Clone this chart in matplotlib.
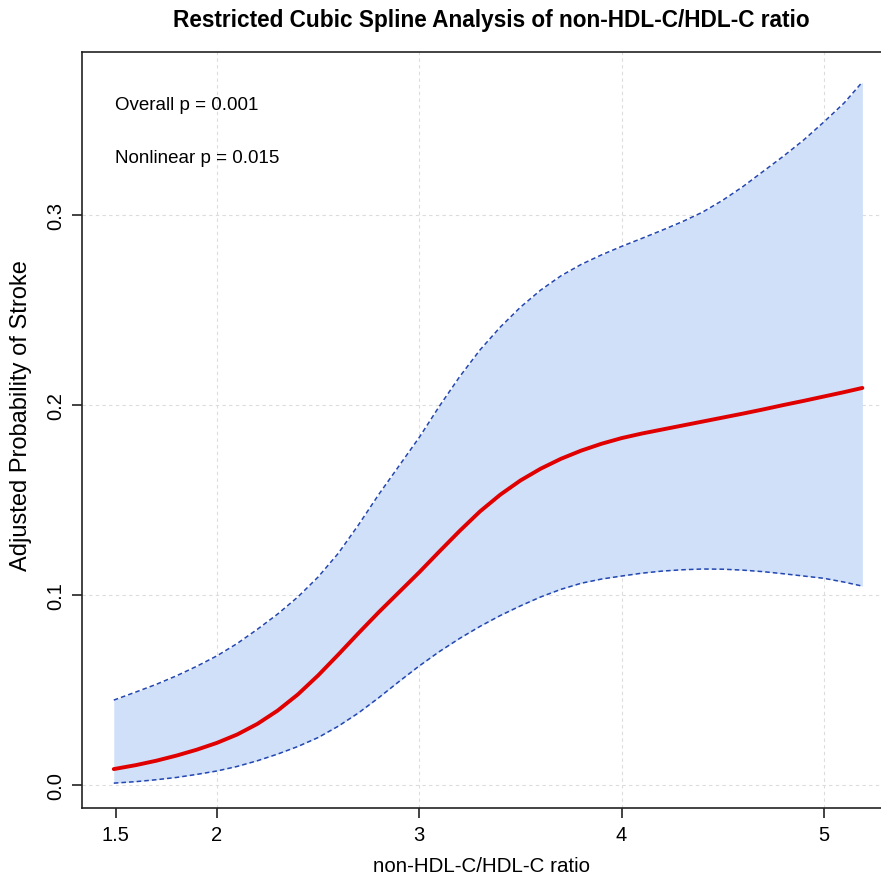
import numpy as np
import matplotlib
matplotlib.use("Agg")
import matplotlib.pyplot as plt

plt.rcParams["font.family"] = ["Liberation Sans", "DejaVu Sans"]

# ====== values ======
ratio = [1.49, 1.6, 1.7, 1.8, 1.9, 2.0, 2.1, 2.2, 2.3, 2.4, 2.5, 2.6, 2.7,
         2.8, 2.9, 3.0, 3.1, 3.2, 3.3, 3.4, 3.5, 3.6, 3.7, 3.8, 3.9, 4.0,
         4.1, 4.2, 4.3, 4.4, 4.5, 4.6, 4.7, 4.8, 4.9, 5.0, 5.1, 5.19]
prob = [0.0084, 0.0105, 0.0128, 0.0155, 0.0186, 0.0222, 0.0266, 0.0322,
        0.0392, 0.0477, 0.0577, 0.0687, 0.0800, 0.0910, 0.1015, 0.1120,
        0.1230, 0.1338, 0.1440, 0.1528, 0.1603, 0.1665, 0.1717, 0.1760,
        0.1796, 0.1826, 0.1850, 0.1871, 0.1892, 0.1913, 0.1934, 0.1955,
        0.1977, 0.2000, 0.2022, 0.2045, 0.2068, 0.2090]
upper = [0.0447, 0.0490, 0.0530, 0.0575, 0.0625, 0.0680, 0.0745, 0.0820,
         0.0900, 0.0990, 0.1095, 0.1220, 0.1370, 0.1530, 0.1680, 0.1830,
         0.1995, 0.2150, 0.2290, 0.2410, 0.2515, 0.2605, 0.2680, 0.2740,
         0.2790, 0.2835, 0.2877, 0.2920, 0.2965, 0.3015, 0.3078, 0.3150,
         0.3230, 0.3310, 0.3395, 0.3490, 0.3590, 0.3700]
lower = [0.0010, 0.0018, 0.0028, 0.0040, 0.0056, 0.0074, 0.0098, 0.0128,
         0.0163, 0.0203, 0.0250, 0.0310, 0.0380, 0.0460, 0.0545, 0.0627,
         0.0703, 0.0772, 0.0835, 0.0892, 0.0943, 0.0990, 0.1030, 0.1062,
         0.1084, 0.1100, 0.1115, 0.1126, 0.1133, 0.1137, 0.1136, 0.1131,
         0.1123, 0.1112, 0.1100, 0.1088, 0.1068, 0.1047]

x_ticks = [1.5, 2, 3, 4, 5]
x_ticklabels = ["1.5", "2", "3", "4", "5"]
y_ticks = [0.0, 0.1, 0.2, 0.3]
y_ticklabels = ["0.0", "0.1", "0.2", "0.3"]

p_overall = "Overall p = 0.001"
p_nonlinear = "Nonlinear p = 0.015"

# ====== plot ======
fig = plt.figure(figsize=(8.81, 8.79), dpi=100)
ax = fig.add_axes([0.0931, 0.0796, 0.9069, 0.8601])

ax.fill_between(ratio, lower, upper, color="#cfe0f8", linewidth=0, zorder=2)
ax.plot(ratio, upper, color="#2346b0", linestyle=(0, (3, 2)), linewidth=1.1, zorder=3)
ax.plot(ratio, lower, color="#2346b0", linestyle=(0, (3, 2)), linewidth=1.1, zorder=3)
ax.plot(ratio, prob, color="#e00000", linewidth=2.8, zorder=4,
        solid_capstyle="round", solid_joinstyle="round")

ax.set_xlim(1.333, 5.282)
ax.set_ylim(-0.0121, 0.3858)

ax.set_xticks(x_ticks)
ax.set_xticklabels(x_ticklabels)
ax.set_yticks(y_ticks)
ax.set_yticklabels(y_ticklabels, rotation=90, va="center")
ax.tick_params(axis="both", labelsize=14.5, length=7, width=1.2, color="#222222",
               direction="out", pad=5)

ax.grid(True, color="#dcdcdc", linestyle=(0, (3, 3)), linewidth=0.8, zorder=0)
ax.set_axisbelow(True)
ax.xaxis.get_gridlines()[0].set_visible(False)

for side in ["left", "bottom", "top"]:
    ax.spines[side].set_linewidth(1.2)
    ax.spines[side].set_color("#222222")
ax.spines["right"].set_visible(False)

ax.set_xlabel("non-HDL-C/HDL-C ratio", fontsize=14.8, labelpad=9)
ax.set_ylabel("Adjusted Probability of Stroke", fontsize=17)
ax.yaxis.set_label_coords(-0.063, 0.52)

ax.text(0.0413, 0.930, p_overall, transform=ax.transAxes, fontsize=13.5, va="center")
ax.text(0.0413, 0.860, p_nonlinear, transform=ax.transAxes, fontsize=13.5, va="center")

fig.text(0.558, 0.977, "Restricted Cubic Spline Analysis of non-HDL-C/HDL-C ratio",
         ha="center", va="center", fontsize=16.3, fontweight="bold")

fig.savefig("out.png", dpi=100)
